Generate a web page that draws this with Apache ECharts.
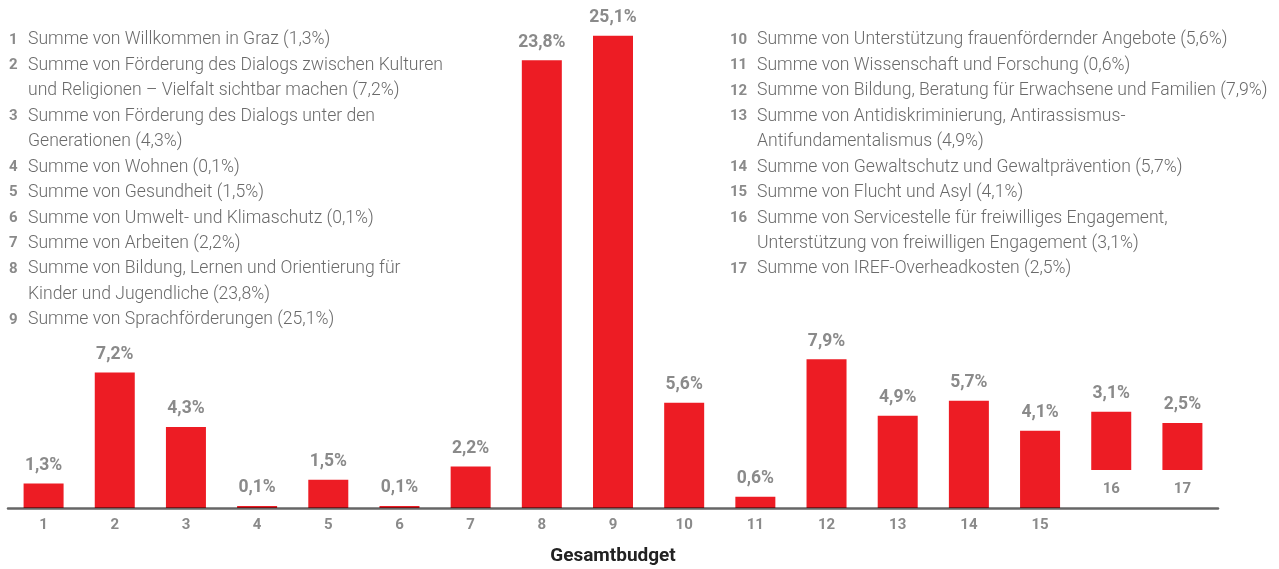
<!DOCTYPE html>
<html>
<head>
<meta charset="utf-8">
<script src="https://cdn.jsdelivr.net/npm/echarts@6/dist/echarts.min.js"></script>
<style>
html,body{margin:0;padding:0;background:#fff;}
#chart{width:1279px;height:569px;}
</style>
</head>
<body>
<div id="chart"></div>
<script>
// ---- data ----
const categories = ['1','2','3','4','5','6','7','8','9','10','11','12','13','14','15','16','17'];
const values = [1.3, 7.2, 4.3, 0.1, 1.5, 0.1, 2.2, 23.8, 25.1, 5.6, 0.6, 7.9, 4.9, 5.7, 4.1, 3.1, 2.5];
// bars 16 and 17 are drawn floating above the baseline in the reference
const floatOffsets = [0,0,0,0,0,0,0,0,0,0,0,0,0,0,0,2.02,2.02];
const names = [
  'Willkommen in Graz',
  'Förderung des Dialogs zwischen Kulturen\nund Religionen – Vielfalt sichtbar machen',
  'Förderung des Dialogs unter den\nGenerationen',
  'Wohnen',
  'Gesundheit',
  'Umwelt- und Klimaschutz',
  'Arbeiten',
  'Bildung, Lernen und Orientierung für\nKinder und Jugendliche',
  'Sprachförderungen',
  'Unterstützung frauenfördernder Angebote',
  'Wissenschaft und Forschung',
  'Bildung, Beratung für Erwachsene und Familien',
  'Antidiskriminierung, Antirassismus-\nAntifundamentalismus',
  'Gewaltschutz und Gewaltprävention',
  'Flucht und Asyl',
  'Servicestelle für freiwilliges Engagement,\nUnterstützung von freiwilligen Engagement',
  'IREF-Overheadkosten'
];
const axisTitle = 'Gesamtbudget';

// ---- helpers ----
const fmt = v => v.toFixed(1).replace('.', ',') + '%';
const RED = '#ED1C24';
const GREY_LBL = '#8a8a8a';
const TXT = '#6a6a6a';
const LEGEND_FONT = 'Roboto';

function legendColumn(startIdx, endIdx, xNum, xText, yCenter, step) {
  const els = [];
  let line = 0;
  for (let i = startIdx; i < endIdx; i++) {
    const full = 'Summe von ' + names[i] + ' (' + fmt(values[i]) + ')';
    const parts = full.split('\n');
    els.push({
      type: 'text', x: xNum, y: yCenter + line * step,
      style: { text: categories[i], fill: GREY_LBL, font: 'bold 15px Roboto', verticalAlign: 'middle', align: 'left' }
    });
    parts.forEach(p => {
      els.push({
        type: 'text', x: xText, y: yCenter + line * step,
        style: { text: p, fill: TXT, font: '300 17.6px ' + LEGEND_FONT, verticalAlign: 'middle', align: 'left' }
      });
      line++;
    });
  }
  return els;
}

const graphics = [].concat(
  legendColumn(0, 9, 9, 28, 40, 25.45),
  legendColumn(9, 17, 730, 757, 40, 25.45)
);

const chart = echarts.init(document.getElementById('chart'), null, { renderer: 'canvas' });
chart.setOption({
  animation: false,
  backgroundColor: '#fff',
  grid: { left: 8, right: 61, top: 0, bottom: 61, containLabel: false, outerBoundsMode: 'none' },
  xAxis: {
    type: 'category',
    data: categories,
    z: 5,
    name: axisTitle,
    nameLocation: 'middle',
    nameGap: 39,
    nameTextStyle: { fontFamily: 'Roboto', fontWeight: 'bold', fontSize: 19, color: '#222' },
    axisLine: { lineStyle: { color: 'rgba(0,0,0,0.6)', width: 2.5 } },
    axisTick: { show: false },
    axisLabel: {
      margin: 10, color: GREY_LBL, fontFamily: 'Roboto', fontWeight: 'bold', fontSize: 15,
      formatter: (v, i) => floatOffsets[i] > 0 ? '' : v
    }
  },
  yAxis: { type: 'value', min: 0, max: 27, show: false, splitLine: { show: false } },
  graphic: graphics,
  series: [
    {
      type: 'bar', stack: 's', barWidth: 40, silent: true,
      data: floatOffsets,
      itemStyle: { color: 'rgba(0,0,0,0)' },
      label: {
        show: true, position: 'insideBottom', distance: 11,
        color: GREY_LBL, fontFamily: 'Roboto', fontWeight: 'bold', fontSize: 15,
        formatter: p => floatOffsets[p.dataIndex] > 0 ? categories[p.dataIndex] : ''
      }
    },
    {
      type: 'bar', stack: 's', barWidth: 40,
      data: values,
      itemStyle: { color: RED },
      label: {
        show: true, position: 'top', distance: 9,
        color: GREY_LBL, fontFamily: 'Roboto', fontWeight: 'bold', fontSize: 17.5,
        formatter: p => fmt(p.value)
      }
    }
  ]
});
</script>
</body>
</html>
